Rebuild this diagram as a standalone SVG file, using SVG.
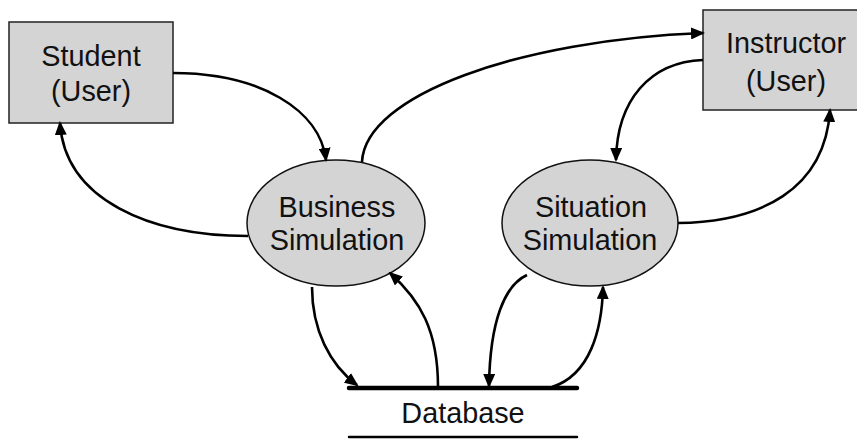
<svg xmlns="http://www.w3.org/2000/svg" width="857" height="439" viewBox="0 0 857 439">
<defs>
<style>
.box{fill:#d4d4d4;stroke:#222;stroke-width:1.5}
.proc{fill:#d4d4d4;stroke:#111;stroke-width:1.5}
.lbl{font-family:"Liberation Sans",Arial,sans-serif;font-size:28.8px;fill:#111;text-anchor:middle}
.con{fill:none;stroke:#000;stroke-width:2.6}
</style>
<marker id="ah" markerUnits="userSpaceOnUse" markerWidth="14" markerHeight="12" refX="12" refY="6" orient="auto">
<path d="M0,0 L14,6 L0,12 z" fill="#000"/>
</marker>
</defs>
<rect width="857" height="439" fill="#fff"/>
<g id="student">
<rect class="box" x="9" y="22" width="164" height="101"/>
<text class="lbl" x="91" y="66">Student</text>
<text class="lbl" x="91" y="101">(User)</text>
</g>
<g id="instructor">
<rect class="box" x="703" y="10" width="166" height="100"/>
<text class="lbl" x="786" y="53">Instructor</text>
<text class="lbl" x="786" y="91">(User)</text>
</g>
<g id="business">
<ellipse class="proc" cx="336" cy="223" rx="89" ry="63"/>
<text class="lbl" x="337" y="217">Business</text>
<text class="lbl" x="337" y="250">Simulation</text>
</g>
<g id="situation">
<ellipse class="proc" cx="590" cy="223" rx="88" ry="63"/>
<text class="lbl" x="591" y="217">Situation</text>
<text class="lbl" x="590" y="250">Simulation</text>
</g>
<g id="database">
<line x1="349" y1="388" x2="577" y2="388" stroke="#000" stroke-width="4.5" stroke-linecap="round"/>
<line x1="349" y1="437" x2="577" y2="437" stroke="#000" stroke-width="2.5" stroke-linecap="round"/>
<text class="lbl" x="463" y="423">Database</text>
</g>
<g id="connectors">
<path class="con" d="M173,73 C260,73 320,110 326,160" marker-end="url(#ah)"/>
<path class="con" d="M248,236 C150,236 65,200 60,123" marker-end="url(#ah)"/>
<path class="con" d="M362,162 C365,95 520,40 703,33" marker-end="url(#ah)"/>
<path class="con" d="M703,60 C650,62 617,100 616,160" marker-end="url(#ah)"/>
<path class="con" d="M678,223 C760,222 825,190 830,110" marker-end="url(#ah)"/>
<path class="con" d="M312,287 C312,330 330,365 357,385" marker-end="url(#ah)"/>
<path class="con" d="M438,387 C438,330 420,300 390,273" marker-end="url(#ah)"/>
<path class="con" d="M527,275 C505,285 490,320 489,386" marker-end="url(#ah)"/>
<path class="con" d="M552,387 C590,375 602,330 603,287" marker-end="url(#ah)"/>
</g>
</svg>
